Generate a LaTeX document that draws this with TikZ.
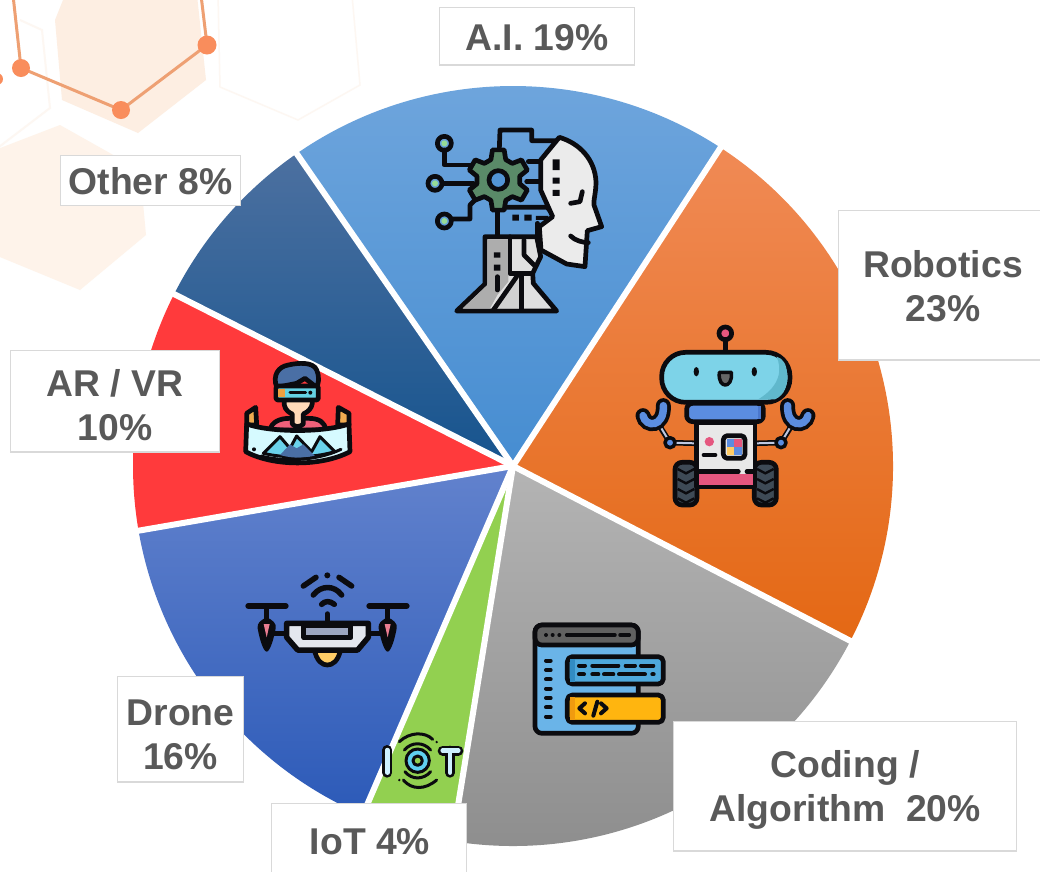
\documentclass[tikz,border=0pt]{standalone}
\usepackage{fontspec}
\setmainfont{Liberation Sans}
\definecolor{lbltxt}{HTML}{595959}
\definecolor{lblbox}{HTML}{D9D9D9}
\definecolor{ibl}{HTML}{5B8DE0}
\definecolor{ipk}{HTML}{E5577F}
\definecolor{iyl}{HTML}{FFB50F}
\definecolor{ink}{HTML}{0B0B0F}
\definecolor{hexa}{HTML}{FDEEE2}
\definecolor{hexb}{HTML}{FEF3EA}
\definecolor{hexc}{HTML}{FDF7F2}
\tikzset{
  x=1pt,y=-1pt,
  lblrect/.style={draw=lblbox,line width=1.5pt,fill=white},
  lbl/.style={text=lbltxt,align=center,inner sep=0pt,
    font=\fontsize{37.3}{44}\selectfont\bfseries},
  ic/.style={draw=ink,line width=4.7pt,line join=round,line cap=round},
  icthin/.style={draw=ink,line width=3pt,line join=round,line cap=round},
  zm/.style={x=0.3333pt,y=-0.3333pt},
}
\newcommand{\wedgeat}[2]{(513,466) -- ++(#1:380) arc[start angle=#1,end angle=#2,radius=380] -- cycle}
\begin{document}
\begin{tikzpicture}
\useasboundingbox (0,0) rectangle (1040,871);
% background hexagons
\fill[white] (0,0) rectangle (1040,871);
\fill[hexa] (55,20) -- (62,100) -- (138,133) -- (206,80) -- (197,-5) -- (65,-5) -- cycle;
\fill[hexb] (-5,150) -- (60,125) -- (140,170) -- (146,235) -- (80,290) -- (-5,255) -- cycle;
\draw[hexc,line width=1.5pt] (218,-5) -- (220,87) -- (298,120) -- (360,85) -- (352,-5);
\draw[hexc,line width=2pt] (-5,150) -- (50,108) -- (42,30) -- (20,20);
% orange network
\draw[color={rgb,255:red,238;green,160;blue,115},line width=3pt] (13,-5) -- (21,68) -- (121,110) -- (207,45) -- (201,-5);
\foreach \p/\r in {{(21,68)}/9,{(121,110)}/9,{(207,45)}/9.5,{(-3,79)}/6}
  \fill[color={rgb,255:red,249;green,141;blue,92}] \p circle[radius=\r];
% pie
\shade[top color={rgb,255:red,112;green,166;blue,221},bottom color={rgb,255:red,70;green,141;blue,209}] \wedgeat{235.3}{303.1};
\shade[top color={rgb,255:red,240;green,138;blue,85},middle color={rgb,255:red,247;green,125;blue,40},bottom color={rgb,255:red,228;green,104;blue,20}] \wedgeat{303.1}{387.4};
\shade[top color={rgb,255:red,180;green,180;blue,180},bottom color={rgb,255:red,140;green,140;blue,140}] \wedgeat{27.4}{99.2};
\fill[color={rgb,255:red,146;green,208;blue,80}] \wedgeat{99.2}{113.3};
\shade[top color={rgb,255:red,98;green,130;blue,205},bottom color={rgb,255:red,44;green,90;blue,184}] \wedgeat{113.3}{170.2};
\fill[color={rgb,255:red,255;green,58;blue,60}] \wedgeat{170.2}{206.9};
\shade[top color={rgb,255:red,76;green,112;blue,160},bottom color={rgb,255:red,22;green,84;blue,142}] \wedgeat{206.9}{235.3};
\foreach \a in {235.3,303.1,27.4,99.2,113.3,170.2,206.9}
  \draw[white,line width=6pt] (513,466) -- ++(\a:383);

% A.I. icon
\begin{scope}[shift={(410,110)},zm]
  \filldraw[ic,fill=black!12] (300,380) -- (225,380) -- (225,522) -- (140,603) -- (440,603) -- (370,520) -- (368,490) -- (392,440) -- (380,380) -- cycle;
  \fill[black!32] (232,388) -- (295,388) -- (295,515) -- (262,555) -- (240,595) -- (158,595) -- (232,525) -- cycle;
  \fill[black!18] (262,595) -- (305,510) -- (332,510) -- (332,595) -- cycle;
  \draw[ic] (300,380) -- (300,490) -- (368,490);
  \draw[ic] (342,390) -- (342,435) -- (372,465);
  \draw[ic] (262,500) -- (262,540);
  \draw[ic] (320,500) -- (250,600);
  \draw[ic] (335,495) -- (335,600);
  \fill[ink] (252,427) rectangle (271,443) (252,464) rectangle (271,482);
  % wires
  \draw[ic] (103,120) -- (103,165) -- (185,165);
  \draw[ic] (98,220) -- (190,220);
  \draw[ic] (125,327) -- (180,327) -- (180,285) -- (195,270);
  \draw[ic] (268,115) -- (270,60) -- (365,60) -- (365,92) -- (450,92);
  \draw[ic] (355,155) -- (400,155);
  \draw[ic] (350,215) -- (395,215);
  \draw[ic] (262,300) -- (262,378);
  \draw[ic] (290,292) -- (412,292) -- (432,318);
  \draw[ic] (382,340) -- (382,380);
  \fill[ink] (307,314) rectangle (327,332) (343,314) rectangle (365,332) (378,318) rectangle (415,330);
  \foreach \c in {(103,100),(75,220),(103,333)}{
    \draw[ic] \c circle[radius=21];
    \fill[color={rgb,255:red,150;green,220;blue,150}] \c circle[radius=9];
  }
  % gear
  \begin{scope}[shift={(265,210)}]
    \filldraw[ic,fill={rgb,255:red,90;green,138;blue,104}] (-110:65) \foreach \t in {-90,-30,30,90,150,210}{ -- (\t-20:65) -- (\t-11:92) -- (\t+11:92) -- (\t+20:65)} -- cycle;
    \filldraw[ic,fill={rgb,255:red,82;green,148;blue,213}] (0,0) circle[radius=28];
  \end{scope}
  % face
  \filldraw[ic,fill=black!8] (448,82) .. controls (510,100) and (555,150) .. (558,215) .. controls (558,250) and (550,270) .. (552,285) -- (575,350) -- (532,362) -- (525,470) -- (470,462) -- (393,420) -- (388,350) -- (428,320) -- (392,240) -- (392,150) -- cycle;
  \fill[ink] (428,148) rectangle (449,180) (428,203) rectangle (449,221) (428,240) rectangle (449,258);
  \draw[ic] (482,280) -- (510,275) -- (517,245);
  \draw[ic] (482,378) .. controls (495,392) and (520,398) .. (535,398);
\end{scope}

% Robot icon
\begin{scope}[shift={(625,315)},zm]
  % arms
  \foreach \s/\o in {1/0,-1/603}{
    \begin{scope}[shift={(\o,0)},xscale=\s]
      \draw[ink,line width=5.5pt] (215,385) -- (135,383) -- (105,335);
      \draw[color={rgb,255:red,190;green,200;blue,225},line width=2pt] (210,385) -- (135,383) -- (108,338);
      \filldraw[ic,line width=3.5pt,fill=ibl] (135,383) circle[radius=15];
      \draw[ink,line width=15pt,line cap=round] (54,302) .. controls (62,338) and (118,338) .. (115,272);
      \draw[ibl,line width=7.5pt,line cap=round] (54,302) .. controls (62,338) and (118,338) .. (115,272);
    \end{scope}
  }
  % wheels
  \foreach \x in {150,388}{
    \filldraw[ic,fill={rgb,255:red,62;green,74;blue,86}] (\x,442) [rounded corners=7pt] rectangle (\x+66,570);
    \foreach \y in {462,492,522,550}
      \draw[ink,line width=2.4pt] (\x+8,\y) -- (\x+33,\y+13) -- (\x+58,\y);
  }
  % antenna
  \draw[ic] (301,80) -- (301,108);
  \filldraw[ic,fill=ipk] (301,55) circle[radius=19];
  % body
  \filldraw[ic,fill=black!9] (215,322) rectangle (390,515);
  \fill[ipk] (222,478) rectangle (383,509);
  \draw[ic] (218,470) -- (340,470);
  \draw[ic] (366,470) -- (386,470);
  \fill[ipk] (253,380) circle[radius=14];
  \draw[ic] (237,420) -- (270,420);
  \fill[ibl] (305,372) rectangle (327,396);
  \fill[ipk] (327,372) rectangle (352,396);
  \fill[color={rgb,255:red,255;green,204;blue,102}] (305,396) rectangle (327,420);
  \fill[ibl] (327,396) rectangle (352,420);
  \draw[ic,rounded corners=4pt] (295,362) rectangle (360,430);
  % neck
  \filldraw[ic,fill=ibl,rounded corners=6pt] (185,265) rectangle (415,320);
  \fill[color={rgb,255:red,75;green,120;blue,205}] (398,272) rectangle (408,312);
  % head
  \filldraw[ic,fill={rgb,255:red,125;green,211;blue,232},rounded corners=24pt] (110,112) rectangle (495,262);
  \fill[color={rgb,255:red,96;green,184;blue,204}] (455,125) .. controls (470,160) and (470,210) .. (400,253) -- (450,253) .. controls (480,240) and (488,210) .. (486,180) .. controls (486,150) and (475,130) .. (455,125) -- cycle;
  \fill[ink] (214,170) ellipse[x radius=8,y radius=14];
  \fill[ink] (388,170) ellipse[x radius=8,y radius=14];
  \filldraw[ic,line width=3.5pt,fill=black!60] (283,172) -- (319,172) .. controls (322,200) and (310,210) .. (301,210) .. controls (292,210) and (280,200) .. (283,172) -- cycle;
\end{scope}

% Code icon
\begin{scope}[shift={(520,610)},zm]
  \filldraw[ic,fill={rgb,255:red,106;green,180;blue,232},rounded corners=7pt] (45,45) rectangle (355,370);
  \filldraw[ic,fill=black!62,rounded corners=7pt] (45,45) -- (355,45) -- (355,105) -- (45,105) -- cycle;
  \foreach \x in {78,98,118} \fill[ink] (\x,75) circle[radius=6];
  \draw[ic,line width=3.5pt] (140,75) -- (285,75) (300,75) -- (328,75);
  \foreach \y in {152,180,208,236,264,292,320} \draw[ic,line width=4pt] (78,\y) -- (92,\y);
  \filldraw[ic,fill={rgb,255:red,78;green,168;blue,220},rounded corners=5pt] (142,140) rectangle (430,222);
  \fill[color={rgb,255:red,50;green,140;blue,195}] (149,147) rectangle (165,215);
  \draw[ic,line width=4pt] (177,167) -- (195,167) (217,167) -- (295,167) (317,167) -- (345,167) (363,167) -- (400,167);
  \draw[ic,line width=4pt] (177,193) -- (192,193) (217,193) -- (235,193) (252,193) -- (280,193) (297,193) -- (375,193) (397,193) -- (401,193);
  \filldraw[ic,fill=iyl,rounded corners=5pt] (142,255) rectangle (430,337);
  \fill[color={rgb,255:red,240;green,155;blue,15}] (149,262) rectangle (165,330);
  \draw[ic,line width=4pt] (195,280) -- (178,295) -- (195,310);
  \draw[ic,line width=4pt] (220,317) -- (232,275);
  \draw[ic,line width=4pt] (243,280) -- (260,295) -- (243,310);
\end{scope}

% Drone icon
\begin{scope}[shift={(235,560)},zm]
  \fill[ink] (277,46) circle[radius=9];
  \draw[ic,line width=5.5pt] (205,78) -- (243,52);
  \draw[ic,line width=5.5pt] (312,52) -- (350,78);
  \draw[ic,line width=5.5pt] (235,105) .. controls (258,75) and (298,75) .. (320,105);
  \draw[ic,line width=5.5pt] (260,133) .. controls (270,122) and (285,122) .. (298,133);
  \draw[ic,line width=5.5pt] (277,162) -- (277,190);
  \draw[ic,line width=6pt] (40,138) -- (152,138) (403,138) -- (515,138);
  \draw[ic] (95,138) -- (95,178) (458,138) -- (458,178);
  \draw[ic] (115,220) -- (155,220) (400,220) -- (438,220);
  \foreach \x in {95,458}{
    \fill[ink] (\x,172) .. controls (\x-18,180) and (\x-30,190) .. (\x-27,205) .. controls (\x-22,235) and (\x-10,275) .. (\x,275) .. controls (\x+10,275) and (\x+22,235) .. (\x+27,205) .. controls (\x+30,190) and (\x+18,180) .. (\x,172) -- cycle;
    \fill[color={rgb,255:red,235;green,125;blue,145}] (\x-9,192) -- (\x+9,192) -- (\x,232) -- cycle;
  }
  \filldraw[ic,fill={rgb,255:red,255;green,204;blue,102}] (237,265) .. controls (245,305) and (262,315) .. (277,315) .. controls (292,315) and (310,305) .. (318,265) -- cycle;
  \filldraw[ic,line width=5.5pt,fill={rgb,255:red,228;green,231;blue,238}] (155,190) -- (400,190) -- (400,232) -- (368,270) -- (188,270) -- (155,232) -- cycle;
  \filldraw[ic,line width=5pt,fill={rgb,255:red,156;green,166;blue,192}] (207,195) -- (207,233) -- (348,233) -- (348,195) -- cycle;
\end{scope}

% VR icon
\begin{scope}[shift={(235,350)},zm]
  \filldraw[ic,fill={rgb,255:red,240;green,96;blue,122}] (105,240) .. controls (110,215) and (135,205) .. (165,205) -- (220,205) .. controls (250,205) and (270,215) .. (272,240) -- cycle;
  \filldraw[ic,fill={rgb,255:red,255;green,217;blue,184}] (148,130) -- (148,165) .. controls (150,180) and (165,190) .. (172,192) -- (172,222) .. controls (180,232) and (195,232) .. (205,222) -- (205,192) .. controls (220,185) and (230,175) .. (232,160) -- (232,130) -- cycle;
  \filldraw[ic,fill={rgb,255:red,74;green,111;blue,165}] (125,112) .. controls (112,75) and (130,50) .. (160,45) .. controls (190,38) and (235,35) .. (245,60) .. controls (255,85) and (250,100) .. (245,112) -- (210,85) -- (185,100) -- cycle;
  \filldraw[ic,fill={rgb,255:red,100;green,210;blue,228},rounded corners=2pt] (123,108) rectangle (250,150);
  \fill[color={rgb,255:red,240;green,160;blue,64}] (130,118) rectangle (150,140);
  \draw[ic,line width=3pt] (165,128) -- (212,128);
  \fill[ink] (226,128) circle[radius=6];
  \filldraw[ic,fill={rgb,255:red,240;green,170;blue,80}] (35,225) -- (35,190) -- (62,172) -- (65,225) -- cycle;
  \filldraw[ic,fill={rgb,255:red,240;green,170;blue,80}] (342,225) -- (342,190) -- (310,172) -- (308,225) -- cycle;
  \filldraw[ic,fill={rgb,255:red,214;green,250;blue,255}] (35,222) .. controls (110,248) and (265,248) .. (342,222) -- (345,305) .. controls (260,350) and (115,350) .. (32,305) -- cycle;
  \filldraw[icthin,fill={rgb,255:red,106;green,210;blue,235}] (85,310) -- (135,260) -- (165,295) -- (185,258) -- (230,305) -- (255,260) -- (300,305) .. controls (230,325) and (150,325) .. (85,310) -- cycle;
  \fill[color={rgb,255:red,74;green,111;blue,165}] (135,315) -- (165,283) -- (185,295) -- (205,283) -- (240,318) .. controls (200,325) and (170,325) .. (135,315) -- cycle;
  \fill[ink] (57,298) circle[radius=6];
  \draw[ic,line width=3pt] (78,318) .. controls (140,335) and (240,335) .. (318,298);
\end{scope}

% IoT icon
\begin{scope}[shift={(370,720)},zm]
  \draw[icthin] (88,65) .. controls (120,35) and (165,35) .. (188,58);
  \draw[icthin] (103,90) .. controls (125,65) and (160,65) .. (182,90);
  \fill[ink] (200,66) circle[radius=4];
  \draw[icthin] (100,180) .. controls (125,210) and (165,210) .. (200,180);
  \draw[icthin] (105,155) .. controls (125,180) and (160,180) .. (182,155);
  \fill[ink] (88,180) circle[radius=4];
  \filldraw[icthin,fill={rgb,255:red,96;green,208;blue,240}] (143,122) circle[radius=35];
  \filldraw[icthin,fill={rgb,255:red,146;green,208;blue,80}] (143,122) circle[radius=14];
  \draw[ink,line width=10pt,line cap=round] (52,90) -- (52,158);
  \draw[color={rgb,255:red,205;green,240;blue,255},line width=4.5pt,line cap=round] (52,90) -- (52,158);
  \draw[ink,line width=10pt,line cap=round,line join=round] (218,92) -- (265,92) (240,92) -- (240,158);
  \draw[color={rgb,255:red,205;green,240;blue,255},line width=4.5pt,line cap=round] (218,92) -- (265,92) (240,92) -- (240,158);
\end{scope}

% labels
\path[lblrect] (439.5,7.5) rectangle (634.5,65);
\path[lblrect] (838.5,210.5) rectangle (1048,360);
\path[lblrect] (673.5,721.5) rectangle (1016.5,851);
\path[lblrect] (271.5,803.5) rectangle (466.5,880);
\path[lblrect] (117.5,676.5) rectangle (243.5,782);
\path[lblrect] (10.5,350.5) rectangle (219.5,452);
\path[lblrect] (60.5,155.5) rectangle (240.5,205.5);
\node[lbl] (ai) at (537,38) {A.I. 19\%};
\node[lbl] (robotics) at (943,286) {Robotics\\23\%};
\node[lbl] (coding) at (845,790) {Coding /\\Algorithm\ \ 20\%};
\node[lbl] (iot) at (370,842) {IoT 4\%};
\node[lbl] (drone) at (180.5,735) {Drone\\16\%};
\node[lbl] (arvr) at (115,405) {AR / VR\\10\%};
\node[lbl] (other) at (150.5,181.5) {Other 8\%};
\end{tikzpicture}
\end{document}
